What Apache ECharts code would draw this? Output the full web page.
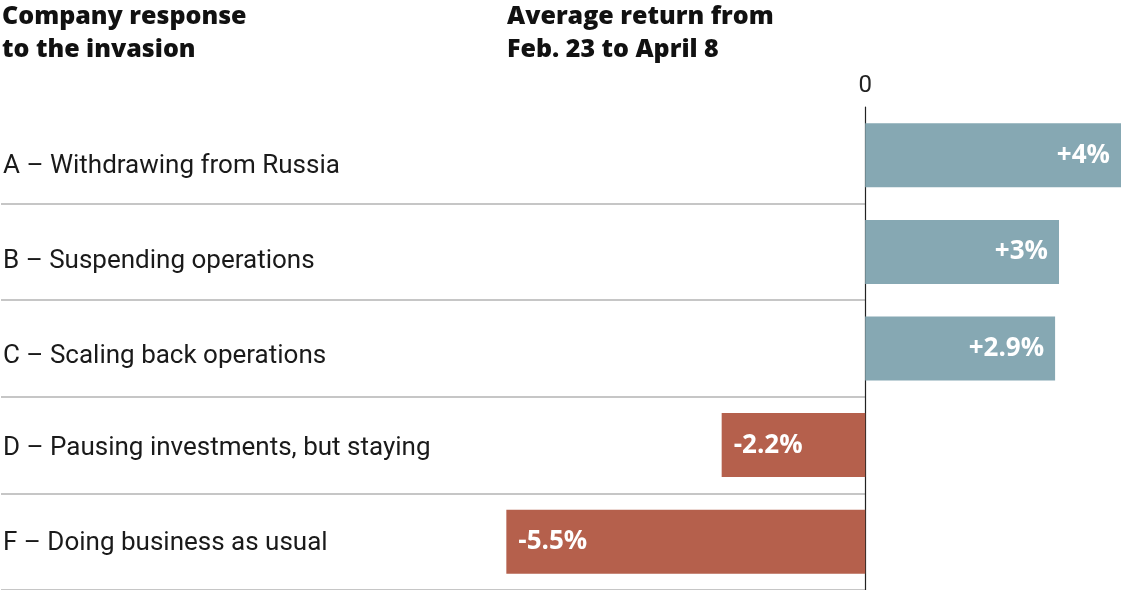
<!DOCTYPE html>
<html>
<head>
<meta charset="utf-8">
<script src="https://cdn.jsdelivr.net/npm/echarts@6/dist/echarts.min.js"></script>
<style>
  html, body { margin: 0; padding: 0; background: #fff; }
  #chart { width: 1121px; height: 590px; }
</style>
</head>
<body>
<div id="chart"></div>
<script>
const categories = [
  'A – Withdrawing from Russia',
  'B – Suspending operations',
  'C – Scaling back operations',
  'D – Pausing investments, but staying',
  'F – Doing business as usual'
];
const returns = [3.92, 2.97, 2.91, -2.2, -5.5];
const valueLabels = ['+4%', '+3%', '+2.9%', '-2.2%', '-5.5%'];
const zeroTick = [0];

const POS = '#86a8b3';
const NEG = '#b5604c';
const FONT = 'Roboto, "Noto Sans", sans-serif';
const BOLDFONT = '"Open Sans", Roboto, sans-serif';
// small downward nudge of each row label (px), as in the reference typesetting
const labelNudge = [11, 10, 8, 3, 2];

const chart = echarts.init(document.getElementById('chart'), null, { renderer: 'canvas' });

const barData = returns.map((v, i) => ({
  value: v,
  itemStyle: { color: v >= 0 ? POS : NEG },
  label: {
    show: true,
    position: v >= 0 ? 'insideRight' : 'insideLeft',
    distance: v >= 0 ? 11 : 12,
    formatter: () => valueLabels[i],
    color: '#fff',
    fontFamily: BOLDFONT,
    fontWeight: 'bold',
    fontSize: 26
  }
}));

const rich = {};
labelNudge.forEach((d, i) => {
  rich['r' + i] = {
    fontFamily: FONT, fontSize: 26, color: '#1a1a1a',
    padding: [2 * d, 0, 0, 0]
  };
});

chart.setOption({
  animation: false,
  title: [
    {
      text: 'Company response\nto the invasion',
      left: 2, top: 0,
      padding: 0,
      textStyle: { fontFamily: BOLDFONT, fontWeight: 800, fontSize: 25, lineHeight: 33, color: '#111' }
    },
    {
      text: 'Average return from\nFeb. 23 to April 8',
      left: 507, top: 0,
      padding: 0,
      textStyle: { fontFamily: BOLDFONT, fontWeight: 800, fontSize: 25, lineHeight: 33, color: '#111' }
    }
  ],
  grid: [
    { left: 0, top: 107, width: 865, bottom: 0, containLabel: false },
    { left: 0, top: 107, right: 0, bottom: 0, containLabel: false }
  ],
  xAxis: [
    { gridIndex: 0, type: 'value', min: 0, max: 1, show: false },
    {
      gridIndex: 1, type: 'value', min: -13.26, max: 3.92, position: 'top',
      axisLine: { show: false }, axisTick: { show: false }, splitLine: { show: false },
      axisLabel: {
        show: true, customValues: zeroTick, margin: 9,
        fontFamily: FONT, fontSize: 24, color: '#222'
      }
    }
  ],
  yAxis: [
    {
      gridIndex: 0, type: 'category', data: categories, inverse: true,
      axisLine: { show: false }, axisTick: { show: false },
      axisLabel: {
        inside: true, margin: 2, fontFamily: FONT, fontSize: 26, color: '#1a1a1a',
        formatter: (value, index) => '{r' + index + '|' + value + '}',
        rich: rich
      },
      splitLine: {
        show: true,
        interval: (index) => index !== 0,
        lineStyle: { color: '#b3b3b3', width: 1.5 }
      }
    },
    {
      gridIndex: 1, type: 'category', data: categories, inverse: true,
      axisLine: { show: true, onZero: true, lineStyle: { color: '#222', width: 1.2 } },
      axisTick: { show: false }, axisLabel: { show: false }, splitLine: { show: false }
    }
  ],
  series: [
    {
      type: 'bar', xAxisIndex: 1, yAxisIndex: 1,
      data: barData, barWidth: 64, z: 1
    }
  ]
});
</script>
</body>
</html>
